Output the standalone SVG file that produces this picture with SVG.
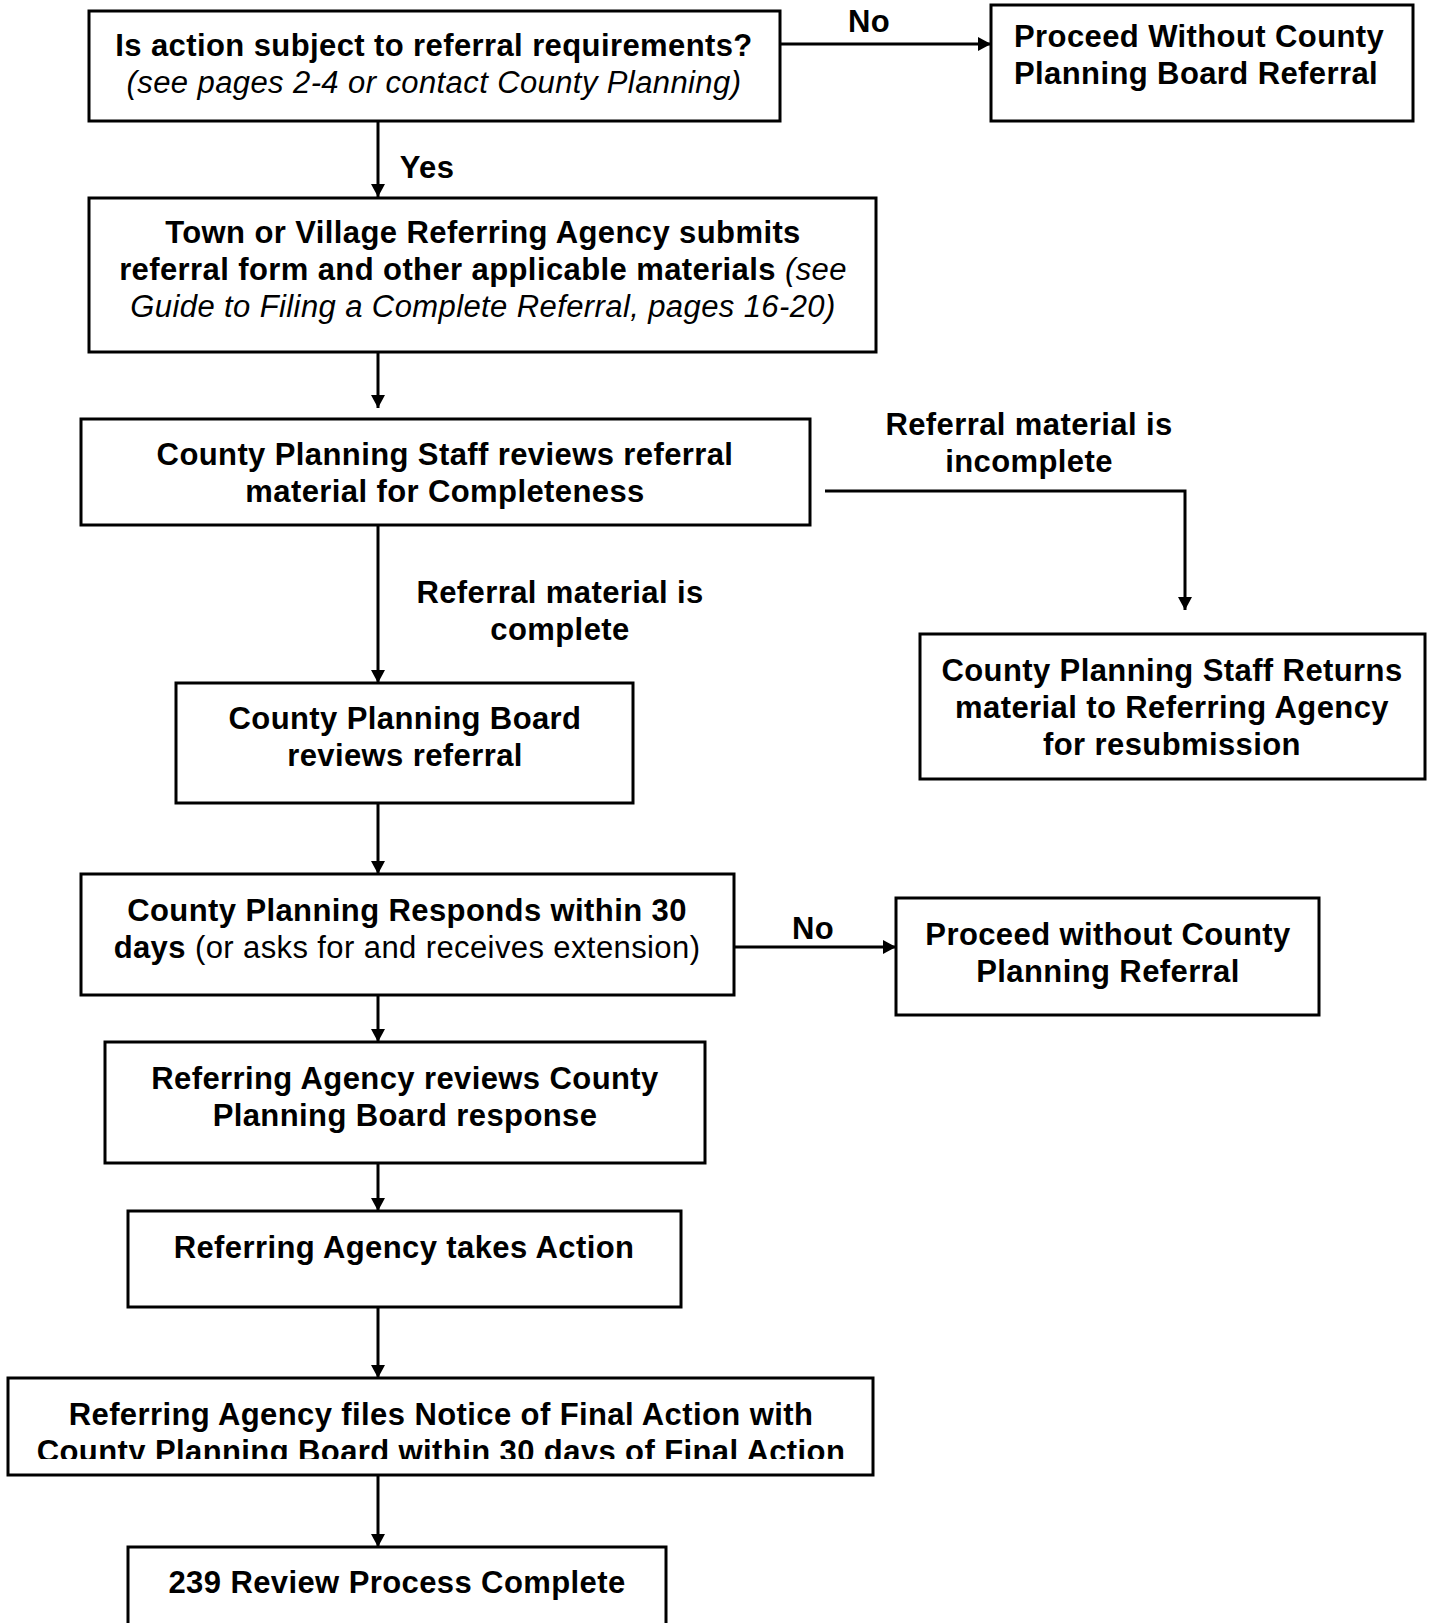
<svg xmlns="http://www.w3.org/2000/svg" width="1429" height="1623" viewBox="0 0 1429 1623">
<style>
.box{fill:#fff;stroke:#000;stroke-width:3}
.t{font-family:"Liberation Sans",Arial,sans-serif;font-size:31px;letter-spacing:0.4px;font-weight:bold;fill:#000;text-anchor:middle}
.l{text-anchor:start}
.i{font-style:italic;font-weight:normal}
.n{font-weight:normal}
.c{stroke:#000;stroke-width:3;fill:none}
</style>
<defs>
<marker id="ah2" viewBox="0 0 13 14" refX="13" refY="7" markerWidth="13" markerHeight="14" orient="auto" markerUnits="userSpaceOnUse">
<path d="M0,0 L13,7 L0,14 z" fill="#000"/>
</marker>
<clipPath id="clip11"><rect x="0" y="1378" width="900" height="81"/></clipPath>
</defs>
<g id="connectors">
<path class="c" d="M780,44 L991,44" marker-end="url(#ah2)"/>
<path class="c" d="M378,121 L378,197" marker-end="url(#ah2)"/>
<path class="c" d="M378,352 L378,408" marker-end="url(#ah2)"/>
<path class="c" d="M825,491 L1185,491 L1185,610" marker-end="url(#ah2)"/>
<path class="c" d="M378,525 L378,683" marker-end="url(#ah2)"/>
<path class="c" d="M378,803 L378,874" marker-end="url(#ah2)"/>
<path class="c" d="M734,947 L896,947" marker-end="url(#ah2)"/>
<path class="c" d="M378,995 L378,1042" marker-end="url(#ah2)"/>
<path class="c" d="M378,1163 L378,1211" marker-end="url(#ah2)"/>
<path class="c" d="M378,1307 L378,1378" marker-end="url(#ah2)"/>
<path class="c" d="M378,1475 L378,1547" marker-end="url(#ah2)"/>
<text class="t" x="869" y="32">No</text>
<text class="t" x="427" y="178">Yes</text>
<text class="t" x="1029" y="435">Referral material is</text>
<text class="t" x="1029" y="472">incomplete</text>
<text class="t" x="560" y="603">Referral material is</text>
<text class="t" x="560" y="640">complete</text>
<text class="t" x="813" y="939">No</text>
</g>
<g id="n1">
<rect class="box" x="89" y="11" width="691" height="110"/>
<text class="t" x="434" y="56">Is action subject to referral requirements?</text>
<text class="t i" x="434" y="93">(see pages 2-4 or contact County Planning)</text>
</g>
<g id="n2">
<rect class="box" x="991" y="5" width="422" height="116"/>
<text class="t l" x="1014" y="47">Proceed Without County</text>
<text class="t l" x="1014" y="84">Planning Board Referral</text>
</g>
<g id="n3">
<rect class="box" x="89" y="198" width="787" height="154"/>
<text class="t" x="483" y="243">Town or Village Referring Agency submits</text>
<text class="t" x="483" y="280">referral form and other applicable materials <tspan class="i">(see</tspan></text>
<text class="t i" x="483" y="317">Guide to Filing a Complete Referral, pages 16-20)</text>
</g>
<g id="n4">
<rect class="box" x="81" y="419" width="729" height="106"/>
<text class="t" x="445" y="465">County Planning Staff reviews referral</text>
<text class="t" x="445" y="502">material for Completeness</text>
</g>
<g id="n5">
<rect class="box" x="920" y="634" width="505" height="145"/>
<text class="t" x="1172" y="681">County Planning Staff Returns</text>
<text class="t" x="1172" y="718">material to Referring Agency</text>
<text class="t" x="1172" y="755">for resubmission</text>
</g>
<g id="n6">
<rect class="box" x="176" y="683" width="457" height="120"/>
<text class="t" x="405" y="729">County Planning Board</text>
<text class="t" x="405" y="766">reviews referral</text>
</g>
<g id="n7">
<rect class="box" x="81" y="874" width="653" height="121"/>
<text class="t" x="407" y="921">County Planning Responds within 30</text>
<text class="t" x="407" y="958">days <tspan class="n">(or asks for and receives extension)</tspan></text>
</g>
<g id="n8">
<rect class="box" x="896" y="898" width="423" height="117"/>
<text class="t" x="1108" y="945">Proceed without County</text>
<text class="t" x="1108" y="982">Planning Referral</text>
</g>
<g id="n9">
<rect class="box" x="105" y="1042" width="600" height="121"/>
<text class="t" x="405" y="1089">Referring Agency reviews County</text>
<text class="t" x="405" y="1126">Planning Board response</text>
</g>
<g id="n10">
<rect class="box" x="128" y="1211" width="553" height="96"/>
<text class="t" x="404" y="1258">Referring Agency takes Action</text>
</g>
<g id="n11">
<rect class="box" x="8" y="1378" width="865" height="97"/>
<text class="t" x="441" y="1425">Referring Agency files Notice of Final Action with</text>
<text class="t" x="441" y="1462" clip-path="url(#clip11)">County Planning Board within 30 days of Final Action</text>
</g>
<g id="n12">
<rect class="box" x="128" y="1547" width="538" height="90"/>
<text class="t" x="397" y="1593">239 Review Process Complete</text>
</g>
</svg>
